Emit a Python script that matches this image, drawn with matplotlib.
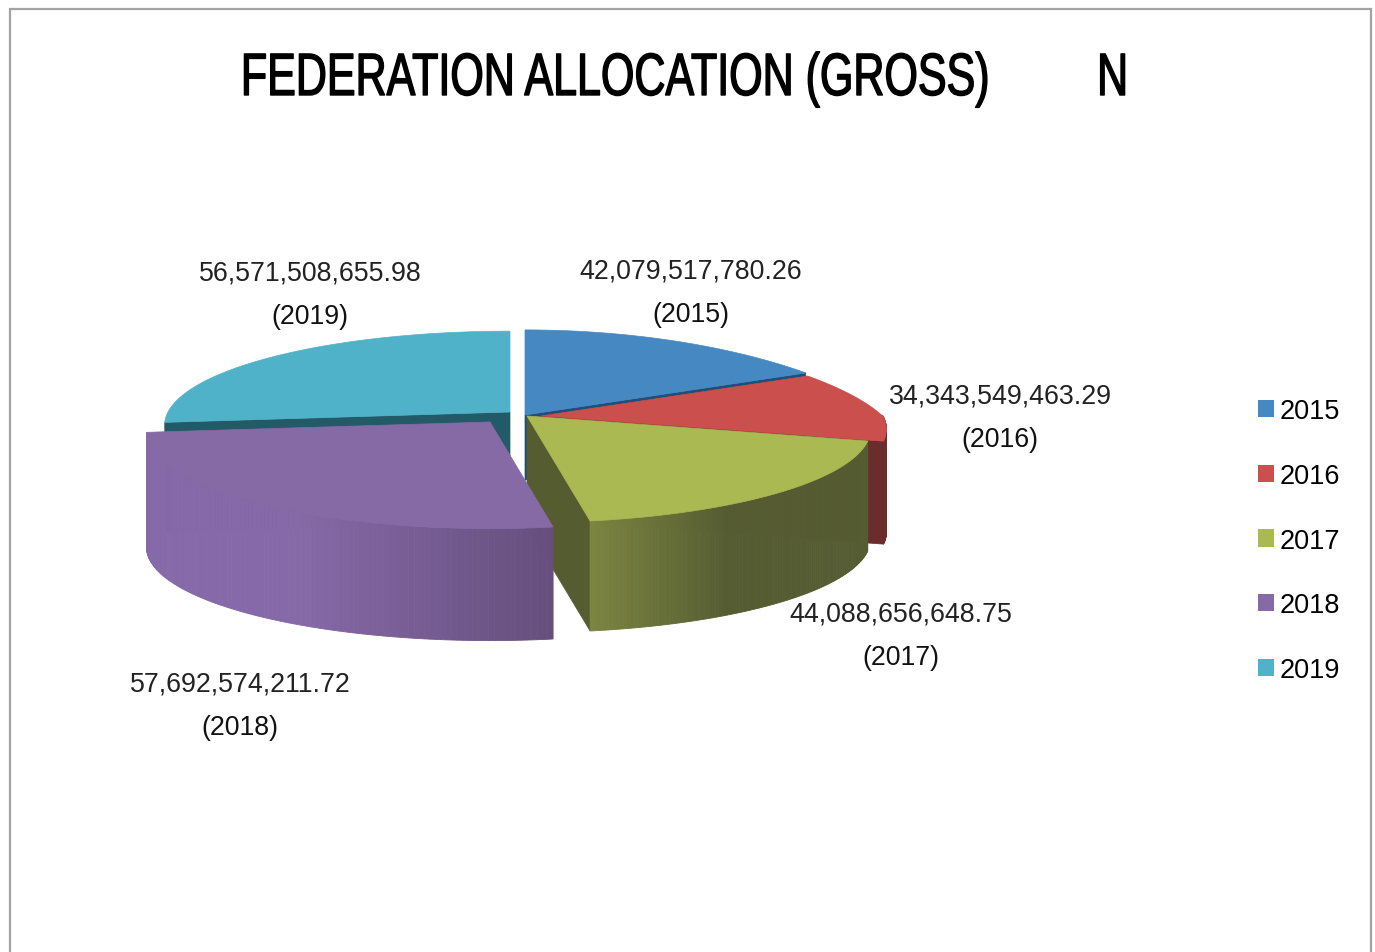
import numpy as np
import matplotlib
matplotlib.use("Agg")
import matplotlib.pyplot as plt
import matplotlib.patheffects as pe
from matplotlib.patches import Polygon, Patch, Rectangle
from matplotlib.colors import to_rgb
from matplotlib.transforms import Affine2D

plt.rcParams['font.family'] = ['Liberation Sans']

years = [2015, 2016, 2017, 2018, 2019]
values = [42079517780.26, 34343549463.29, 44088656648.75, 57692574211.72, 56571508655.98]

top_colors = ['#4689c2', '#cb4f4d', '#abb952', '#866aa6', '#4fb2c8']
side_dark = ['#2a5a85', '#6b2c2c', '#555c32', '#664f7d', '#235a68']
side_light = ['#2a5a85', '#6b2c2c', '#7c8640', '#8669a8', '#235a68']
wall_colors = ['#1f4e79', '#6b2c2c', '#555c30', '#664f7d', '#235a68']

# pie geometry, in pixels
centres = [(525, 416), (541, 417), (527, 417), (490, 423), (510, 413)]
radii = [1.0, 0.95, 0.945, 0.945, 0.95]
depth = [65, 103, 110, 112, 110]
flat = [1.25, 1.25, 1.0, 1.0, 1.0]
label_pos = [(691, 272), (1000, 397), (901, 615), (240, 685), (310, 274)]
RX, RY, K, WARP = 360, 97, 0.14, 14


class Squeeze(pe.AbstractPathEffect):
    # no condensed face installed, so narrow the glyphs around x0
    def __init__(self, x0, sx, stroke):
        super().__init__()
        self.x0, self.sx, self.stroke = x0, sx, stroke

    def draw_path(self, renderer, gc, tpath, affine, rgbFace=None):
        tr = affine + Affine2D().translate(-self.x0, 0).scale(self.sx, 1).translate(self.x0, 0)
        gc0 = renderer.new_gc()
        gc0.copy_properties(gc)
        gc0.set_linewidth(self.stroke)
        gc0.set_foreground('black')
        renderer.draw_path(gc0, tpath, tr, rgbFace)
        gc0.restore()


def rim(theta, c, r, p):
    u, v = np.sin(theta), np.cos(theta)
    s = 1 / (1 + K * v)
    w = np.where(v > 0, np.abs(v) ** p, v)
    return c[0] + r * RX * u * s, c[1] - r * RY * w * s


fig = plt.figure(figsize=(13.75, 9.53), dpi=100)
ax = fig.add_axes([0, 0, 1, 1])
ax.set_xlim(0, 1375)
ax.set_ylim(953, 0)
ax.axis('off')

ax.add_patch(Rectangle((10, 10), 1361, 1000, fc='white', ec='#a3a3a3', lw=1.6))

# cumulative shares to angles, squeezed a bit as the perspective does
edges = np.cumsum([0] + values) / np.sum(values) * 2 * np.pi
edges = edges - np.radians(WARP) * np.sin(edges / 2)

for i in [4, 0, 1, 2, 3]:
    c, r, h = centres[i], radii[i], depth[i]
    t = np.linspace(edges[i], edges[i + 1], 120)
    x, y = rim(t, c, r, flat[i])

    # cut face towards the viewer: the end edge, but the start edge for the last slice
    if i != 3:
        k = 0 if i == 4 else -1
        ax.add_patch(Polygon([c, (x[k], y[k]), (x[k], y[k] + h), (c[0], c[1] + h)],
                             fc=wall_colors[i], ec=wall_colors[i], lw=0.5))

    # outer side, only the part that faces the viewer
    front = np.cos(t) < 0.02
    if front.any() and i != 4:
        fx, fy = x[front], y[front]
        span = max(abs(fx[-1] - fx[0]), 1)
        dark, light = np.array(to_rgb(side_dark[i])), np.array(to_rgb(side_light[i]))
        for j in range(len(fx) - 1):
            if i == 3:
                f = min(abs(fx[j] - fx[0]) / span * 1.6, 1)
            else:
                f = np.clip(abs(fx[j] - fx[0]) / span * 2 - 1, 0, 1)
            col = light * f + dark * (1 - f)
            ax.add_patch(Polygon([(fx[j], fy[j]), (fx[j + 1], fy[j + 1]),
                                  (fx[j + 1], fy[j + 1] + h), (fx[j], fy[j] + h)],
                                 fc=col, ec=col, lw=0.6))

    ax.add_patch(Polygon(np.vstack([[c], np.column_stack([x, y])]),
                         fc=top_colors[i], ec=top_colors[i], lw=0.5))

for v, yr, p in zip(values, years, label_pos):
    ax.text(p[0], p[1], f"{v:,.2f}", ha='center', va='center', fontsize=19.3, color='#222222')
    ax.text(p[0], p[1] + 43, f"({yr})", ha='center', va='center', fontsize=19.3, color='#111111')

tx = 685
title = ax.text(tx, 96, "FEDERATION ALLOCATION (GROSS)         N", fontsize=43,
                ha='center', va='baseline', color='black')
title.set_path_effects([Squeeze(tx, 0.72, 1.0)])

handles = [Patch(fc=col, ec='none', label=str(yr)) for col, yr in zip(top_colors, years)]
ax.legend(handles=handles, loc='upper left', bbox_to_anchor=(1247, 388),
          bbox_transform=ax.transData, frameon=False, fontsize=19.5, handlelength=0.6,
          handleheight=0.6, handletextpad=0.2, labelspacing=1.435, borderaxespad=0)

fig.savefig("out.png", dpi=100)
